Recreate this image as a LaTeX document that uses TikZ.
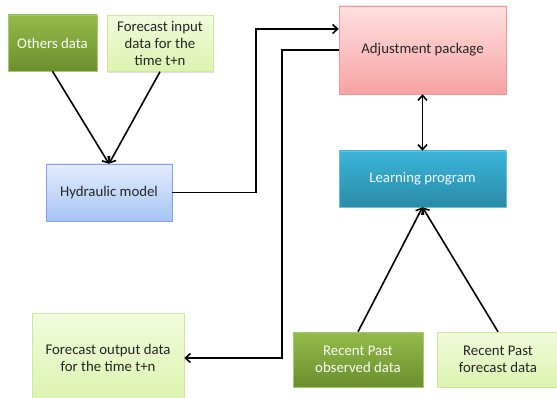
\documentclass[tikz,border=0pt]{standalone}
\usepackage{fontspec}
\setmainfont{Carlito}
\usetikzlibrary{arrows.meta,shadows}
\definecolor{dkgTop}{HTML}{93BB4A}
\definecolor{dkgBot}{HTML}{6B8F2E}
\definecolor{ltgTop}{HTML}{F2FBDD}
\definecolor{ltgBot}{HTML}{DCF3AE}
\definecolor{bluTop}{HTML}{E2ECFD}
\definecolor{bluBot}{HTML}{A7C5F4}
\definecolor{pnkTop}{HTML}{FFE0E0}
\definecolor{pnkBot}{HTML}{F7A3A3}
\definecolor{cynTop}{HTML}{3AB5DA}
\definecolor{cynBot}{HTML}{2A8BA6}
\tikzset{
  box/.style={rectangle, align=center, inner sep=2pt,
    font=\fontsize{14.8}{17.4}\selectfont,
    drop shadow={shadow xshift=1.2pt, shadow yshift=-1.2pt, opacity=0.25}},
  dkgreen/.style={box, top color=dkgTop, bottom color=dkgBot, draw=dkgTop!80!white, line width=0.5pt, text=white!95!dkgTop},
  ltgreen/.style={box, top color=ltgTop, bottom color=ltgBot, draw=ltgBot!80!dkgTop, line width=0.5pt, text=black!85},
  bluebox/.style={box, top color=bluTop, bottom color=bluBot, draw=bluBot!80!blue, line width=0.5pt, text=black!85},
  pinkbox/.style={box, top color=pnkTop, bottom color=pnkBot, draw=pnkBot!90!red, line width=0.5pt, text=black!85},
  cyanbox/.style={box, top color=cynTop, bottom color=cynBot, draw=cynTop!80!white, line width=0.5pt, text=white!95!cynTop},
  arr/.style={line width=1.6pt, black, -{Straight Barb[length=5pt,width=9pt]}},
  dblarr/.style={line width=1.6pt, black, {Straight Barb[length=5pt,width=9pt]}-{Straight Barb[length=5pt,width=9pt]}}
}
\begin{document}
\begin{tikzpicture}[x=1pt,y=-1pt]
\useasboundingbox (0,0) rectangle (557,398);
\fill[white] (0,0) rectangle (557,398);
\node[dkgreen, minimum width=89pt, minimum height=56pt] (oth) at (52.5,43) {Others data};
\node[ltgreen, minimum width=106pt, minimum height=56pt] (fci) at (160,43.5) {Forecast input\\data for the\\time t+n};
\node[bluebox, minimum width=126pt, minimum height=57pt] (hyd) at (109,192.5) {Hydraulic model};
\node[pinkbox, minimum width=167pt, minimum height=88pt] (adj) at (422.5,50) {Adjustment package};
\node[cyanbox, minimum width=167pt, minimum height=56pt] (lrn) at (422.5,179) {Learning program};
\node[ltgreen, minimum width=152pt, minimum height=90pt] (fout) at (108,358) {Forecast output data\\for the time t+n};
\node[dkgreen, minimum width=130pt, minimum height=55pt] (rpo) at (358,359.5) {Recent Past\\observed data};
\node[ltgreen, minimum width=122pt, minimum height=55pt] (rpf) at (498,359.5) {Recent Past\\forecast data};

\draw[arr] (oth.south) -- (hyd.north);
\draw[arr] (fci.south) -- (hyd.north);
\draw[arr] (hyd.east) -- ++(84,0) |- ([yshift=21pt]adj.west);
\draw[arr] (adj.west) -- ++(-57,0) |- (fout.east);
\draw[dblarr] (adj.south) -- (lrn.north);
\draw[arr] (rpo.north) -- (lrn.south);
\draw[arr] (rpf.north) -- (lrn.south);
\end{tikzpicture}
\end{document}
